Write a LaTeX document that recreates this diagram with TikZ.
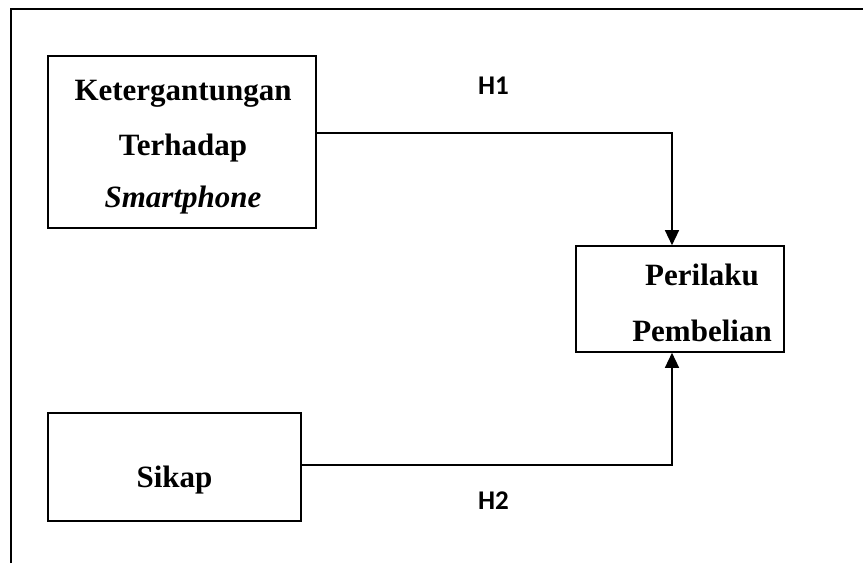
\documentclass[tikz,border=0pt]{standalone}
\usepackage{fontspec}
\setmainfont{Liberation Serif}
\newfontfamily\hfont{Carlito}
\usetikzlibrary{arrows.meta}
\tikzset{
  boxnode/.style={draw, line width=1.6pt, inner sep=0pt},
  boxtext/.style={anchor=base, inner sep=0pt, font=\bfseries\fontsize{31}{37}\selectfont},
  hlabel/.style={anchor=base, inner sep=0pt, font=\hfont\bfseries\fontsize{27}{32}\selectfont},
  conn/.style={line width=1.4pt, -{Triangle[length=15pt,width=14pt]}},
  frameline/.style={line width=2.2pt}
}
\begin{document}
\begin{tikzpicture}[x=1pt,y=-1pt]
\useasboundingbox (0,0) rectangle (863,563);
\draw[frameline] (11,563) -- (11,9) -- (863,9);
% boxes
\node[boxnode, minimum width=268pt, minimum height=172pt] (k) at (182,142) {};
\node[boxnode, minimum width=208pt, minimum height=106pt] (p) at (680,299) {};
\node[boxnode, minimum width=253pt, minimum height=108pt] (s) at (174.5,467) {};
% texts
\node[boxtext] (k1) at (183,100) {Ketergantungan};
\node[boxtext] (k2) at (183,155) {Terhadap};
\node[boxtext] (k3) at (183,207) {\textit{Smartphone}};
\node[boxtext] (p1) at (702,285) {Perilaku};
\node[boxtext] (p2) at (702,341) {Pembelian};
\node[boxtext] (s1) at (174.5,487) {Sikap};
\node[hlabel] (h1) at (493.5,94) {H1};
\node[hlabel] (h2) at (493.5,509) {H2};
% connectors
\draw[conn] ([yshift=9pt]k.east) -| ([xshift=-8pt]p.north);
\draw[conn] ([yshift=2pt]s.east) -| ([xshift=-8pt]p.south);
\end{tikzpicture}
\end{document}
